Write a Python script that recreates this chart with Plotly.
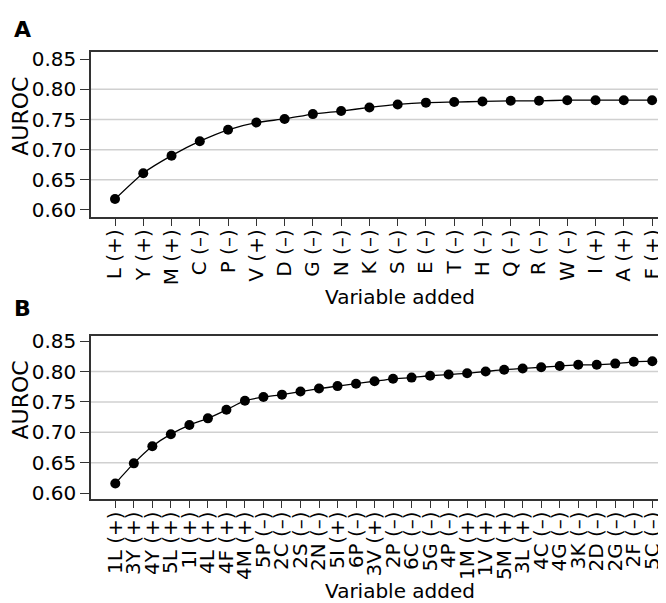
import plotly.graph_objects as go

# ---- data ----
labels_a = ["L (+)", "Y (+)", "M (+)", "C (–)", "P (–)", "V (+)", "D (–)", "G (–)", "N (–)", "K (–)",
            "S (–)", "E (–)", "T (–)", "H (–)", "Q (–)", "R (–)", "W (–)", "I (+)", "A (+)", "F (+)"]
auroc_a = [0.618, 0.661, 0.690, 0.714, 0.733, 0.745, 0.751, 0.759, 0.764, 0.770,
           0.775, 0.778, 0.779, 0.780, 0.781, 0.781, 0.782, 0.782, 0.782, 0.782]

labels_b = ["1L (+)", "3Y (+)", "4Y (+)", "5L (+)", "1I (+)", "4L (+)", "4F (+)", "4M (+)", "5P (–)", "2C (–)",
            "2S (–)", "2N (–)", "5I (+)", "6P (–)", "3V (+)", "2P (–)", "6C (–)", "5G (–)", "4P (–)", "1M (+)",
            "1V (+)", "5M (+)", "3L (+)", "4C (–)", "4G (–)", "3K (–)", "2D (–)", "2G (–)", "2F (–)", "5C (–)"]
auroc_b = [0.616, 0.649, 0.677, 0.697, 0.712, 0.723, 0.737, 0.752, 0.758, 0.762,
           0.767, 0.772, 0.776, 0.780, 0.784, 0.788, 0.790, 0.793, 0.795, 0.797,
           0.800, 0.803, 0.805, 0.807, 0.809, 0.811, 0.811, 0.813, 0.816, 0.817]

y_ticks = [0.60, 0.65, 0.70, 0.75, 0.80, 0.85]
grid_vals = [0.65, 0.70, 0.75, 0.80]

FONT = "DejaVu Sans"
W, H = 666, 603

fig = go.Figure()
fig.add_trace(go.Scatter(x=list(range(len(labels_a))), y=auroc_a, mode="lines+markers",
                         line=dict(color="black", width=1.3, shape="spline", smoothing=0.6),
                         marker=dict(color="black", size=10), xaxis="x", yaxis="y", showlegend=False))
fig.add_trace(go.Scatter(x=list(range(len(labels_b))), y=auroc_b, mode="lines+markers",
                         line=dict(color="black", width=1.3, shape="spline", smoothing=0.6),
                         marker=dict(color="black", size=10), xaxis="x2", yaxis="y2", showlegend=False))

xdom = [83 / W, 663 / W]
common_x = dict(tickmode="array", tickangle=-90, ticks="outside", ticklen=8, tickwidth=1,
                tickcolor="#333", showline=True, linecolor="#333", linewidth=1.5, mirror=True,
                showgrid=False, zeroline=False, tickfont=dict(family=FONT, size=20, color="black"),
                ticklabelstandoff=-5, domain=xdom)
common_y = dict(tickmode="array", tickvals=y_ticks, ticktext=[f"{v:.2f}" for v in y_ticks],
                ticks="outside", ticklen=9, tickwidth=1, tickcolor="#333",
                showline=True, linecolor="#333", linewidth=1.5, mirror=True,
                showgrid=False, zeroline=False, tickfont=dict(family=FONT, size=20, color="black"))

fig.update_layout(
    width=W, height=H, margin=dict(l=0, r=0, t=0, b=0),
    paper_bgcolor="white", plot_bgcolor="white",
    xaxis=dict(common_x, tickvals=list(range(len(labels_a))), ticktext=labels_a,
               range=[-0.849, 19.67], anchor="y"),
    yaxis=dict(common_y, range=[0.589, 0.8617], domain=[1 - 206 / H, 1 - 38 / H], anchor="x"),
    xaxis2=dict(common_x, tickvals=list(range(len(labels_b))), ticktext=labels_b,
                range=[-1.313, 30.01], anchor="y2"),
    yaxis2=dict(common_y, range=[0.591, 0.8585], domain=[1 - 494.3 / H, 1 - 328 / H], anchor="x2"),
)

for xr, yr in (("x", "y"), ("x2", "y2")):
    for g in grid_vals:
        fig.add_shape(type="line", xref=f"{xr} domain", x0=0, x1=1, yref=yr, y0=g, y1=g,
                      line=dict(color="#d0d0d0", width=1.5), layer="below")

ann = [
    dict(text="<b>A</b>", x=14, y=15, size=22),
    dict(text="<b>B</b>", x=14, y=300, size=22),
    dict(text="Variable added", x=392, y=288, size=20),
    dict(text="Variable added", x=392, y=589, size=20),
]
for a in ann:
    fig.add_annotation(text=a["text"], xref="paper", yref="paper", x=a["x"] / W, y=1 - a["y"] / H,
                       showarrow=False, xanchor="center", yanchor="middle",
                       font=dict(family=FONT, size=a["size"], color="black"))
for yc in (104, 394):
    fig.add_annotation(text="AUROC", xref="paper", yref="paper", x=13 / W, y=1 - yc / H,
                       showarrow=False, xanchor="center", yanchor="middle", textangle=-90,
                       font=dict(family=FONT, size=22, color="black"))

fig.write_html("out.html")
